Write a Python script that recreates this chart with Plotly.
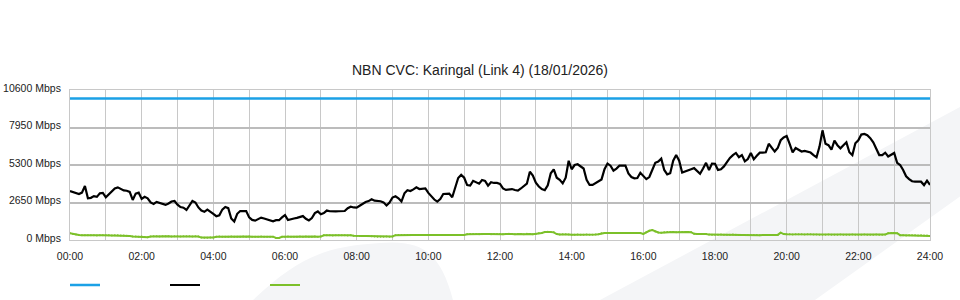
import plotly.graph_objects as go

# ---- data (5-minute samples, 00:00 .. 24:00) ----
times_h = [i * 5 / 60 for i in range(289)]

capacity_x = [0, 24]
capacity = [10000, 10000]

download = [
    3463, 3400, 3300, 3250, 3350, 3816, 2950, 2980, 3100, 3050, 3300, 3330, 3015, 3250, 3450, 3650, 3720, 3600, 3500, 3480, 3400, 2830, 3280, 3345, 2900,
    3050, 2950, 2650, 2550, 2690, 2620, 2560, 2480, 2580, 2720, 2760, 2500, 2330, 2280, 2120, 2480, 2760, 2650, 2300, 2080, 1990, 2150, 2020, 1850,
    1680, 1750, 2150, 2330, 2250, 1520, 1300, 1850, 2050, 2050, 2040, 1600, 1420, 1370, 1500, 1580, 1520, 1470, 1420, 1320, 1400, 1400, 1600, 1760,
    1410, 1480, 1520, 1560, 1640, 1690, 1500, 1380, 1550, 1900, 2020, 1820, 1900, 2080, 2030, 2000, 2020, 2030, 2040, 2050, 2250, 2350, 2300, 2290,
    2420, 2570, 2680, 2750, 2880, 2780, 2760, 2740, 2660, 2440, 2640, 3000, 3090, 2950, 2720, 3300, 3520, 3460, 3580, 3720, 3600, 3620, 3640, 3330,
    3060, 2860, 2710, 2900, 3250, 3250, 3280, 3020, 3780, 4380, 4600, 4400, 3880, 3850, 4180, 4050, 3980, 4240, 4180, 3840, 4080, 4030, 4030, 3960,
    3650, 3540, 3560, 3600, 3530, 3490, 3640, 3800, 3980, 4830, 4550, 4050, 3780, 3600, 3520, 3860, 4710, 4990, 4400, 4250, 4000, 4400, 5600, 5000,
    5300, 5350, 5180, 5050, 4250, 3890, 3890, 4030, 4150, 4280, 5000, 5400, 5250, 4900, 5050, 5250, 5250, 5250, 4700, 4450, 4360, 4380, 4750, 4500,
    4300, 4450, 4950, 5450, 5550, 5750, 4950, 4640, 4720, 5600, 6000, 5600, 4760, 4850, 4960, 5000, 5080, 4900, 4680, 5050, 5450, 4950, 5400, 5390,
    4950, 5000, 5200, 5500, 5800, 6000, 6150, 5850, 6000, 5560, 5720, 6150, 5700, 5950, 6170, 6170, 6200, 6800, 6480, 6250, 6500, 7050, 7250, 7350,
    6800, 6200, 6500, 6400, 6250, 6300, 6250, 6180, 6000, 5850, 6600, 7750, 6800, 6700, 6380, 7020, 6700, 6480, 6700, 6900, 6200, 6000, 6830, 7050,
    7450, 7490, 7400, 7200, 6900, 6400, 6000, 6000, 6170, 5900, 6050, 6150, 5450, 5300, 4950, 4500, 4300, 4150, 4120, 4120, 4120, 3880, 4190, 3890,
]

upload = [
    470, 420, 380, 360, 340, 330, 335, 330, 330, 325, 330, 335, 330, 330, 325, 330, 330, 320, 310, 300, 280, 240, 240, 235, 240,
    210, 190, 250, 260, 260, 255, 260, 265, 260, 255, 260, 260, 255, 260, 265, 260, 255, 260, 250, 170, 165, 165, 170, 175,
    235, 240, 235, 230, 235, 240, 235, 230, 235, 240, 235, 240, 235, 230, 235, 240, 235, 230, 235, 235, 150, 150, 230, 235,
    240, 235, 230, 235, 240, 235, 240, 235, 235, 240, 235, 240, 330, 335, 330, 325, 330, 335, 330, 330, 325, 330, 300, 280,
    285, 280, 285, 280, 270, 240, 235, 230, 235, 240, 235, 245, 340, 350, 355, 350, 345, 350, 355, 350, 345, 350, 355, 350,
    345, 350, 355, 360, 350, 345, 350, 355, 350, 360, 355, 350, 410, 420, 425, 420, 415, 420, 425, 420, 410, 420, 430, 420,
    400, 420, 440, 420, 400, 430, 420, 410, 440, 420, 410, 430, 480, 500, 560, 590, 570, 540, 420, 390, 400, 410, 380, 375,
    370, 380, 375, 370, 380, 375, 370, 380, 400, 470, 490, 495, 500, 495, 490, 500, 495, 490, 500, 495, 490, 495, 490, 430,
    550, 650, 700, 600, 530, 520, 540, 560, 565, 560, 555, 565, 570, 560, 565, 550, 440, 420, 425, 430, 420, 380, 375, 370,
    375, 380, 375, 370, 375, 380, 370, 355, 350, 345, 350, 355, 350, 345, 340, 350, 355, 350, 345, 350, 360, 520, 420, 400,
    400, 395, 400, 405, 400, 395, 400, 400, 390, 380, 375, 370, 375, 380, 375, 370, 375, 380, 375, 370, 375, 380, 375, 370,
    375, 380, 375, 370, 375, 380, 375, 370, 380, 470, 495, 495, 480, 340, 330, 325, 330, 335, 330, 325, 330, 320, 310, 283,
]

assert len(download) == 289, len(download)
assert len(upload) == 289, len(upload)

tick_hours = list(range(0, 25, 2))
tick_text = ["%02d:00" % h for h in tick_hours]
y_ticks = [0, 2650, 5300, 7950, 10600]
y_text = ["%d Mbps" % v for v in y_ticks]

FONT = "Liberation Sans, Arial, Helvetica, sans-serif"

fig = go.Figure()
fig.add_trace(go.Scatter(x=capacity_x, y=capacity, mode="lines", name="",
                         line=dict(color="#1ba1e6", width=2.5), hoverinfo="skip"))
fig.add_trace(go.Scatter(x=times_h, y=download, mode="lines", name="",
                         line=dict(color="#000000", width=2.2)))
fig.add_trace(go.Scatter(x=times_h, y=upload, mode="lines+markers", name="",
                         line=dict(color="#7cc02a", width=2),
                         marker=dict(size=2, color="#7cc02a")))

# background swoosh (decorative)
L, R, T, B = 70, 930, 90, 240
def px(x, y):
    return (x - L) / (R - L), (B - y) / (B - T)

def path(points):
    s = ""
    for k, (x, y) in enumerate(points):
        X, Y = px(x, y)
        s += ("M" if k == 0 else "L") + "%.4f,%.4f " % (X, Y)
    return s + "Z"

a = px(253, 300); c1 = px(300, 255); c2 = px(330, 246); b = px(380, 243)
d1 = px(420, 240); d2 = px(440, 250); e = px(453, 300)
leaf_path = ("M%.4f,%.4f C%.4f,%.4f %.4f,%.4f %.4f,%.4f C%.4f,%.4f %.4f,%.4f %.4f,%.4f Z" %
             (a[0], a[1], c1[0], c1[1], c2[0], c2[1], b[0], b[1],
              d1[0], d1[1], d2[0], d2[1], e[0], e[1]))
band_path = path([(600, 300), (962, 106), (962, 195), (815, 300)])

shapes = [
    dict(type="path", xref="paper", yref="paper", path=leaf_path,
         fillcolor="#f4f5f7", line=dict(width=0), layer="below"),
    dict(type="path", xref="paper", yref="paper", path=band_path,
         fillcolor="#f4f5f7", line=dict(width=0), layer="below"),
]

fig.update_layout(
    width=960, height=300, autosize=False,
    margin=dict(l=70, r=30, t=90, b=60, autoexpand=False),
    paper_bgcolor="#ffffff", plot_bgcolor="rgba(0,0,0,0)",
    font=dict(family=FONT, size=10.5, color="#222222"),
    title=dict(text="NBN CVC: Karingal (Link 4) (18/01/2026)", x=0.5, xref="container",
               y=1 - 70 / 300, yref="container", xanchor="center", yanchor="middle",
               font=dict(family=FONT, size=14, color="#222222")),
    showlegend=True,
    legend=dict(orientation="h", xref="container", yref="container",
                x=65 / 960, xanchor="left", y=1 - 285 / 300, yanchor="middle",
                entrywidth=55, entrywidthmode="pixels", itemwidth=30,
                font=dict(size=10.5), bgcolor="rgba(0,0,0,0)"),
    shapes=shapes,
    hovermode="x",
)
fig.update_xaxes(range=[0, 24], tickvals=tick_hours, ticktext=tick_text,
                 showgrid=True, gridcolor="#c8c8c8", gridwidth=1,
                 minor=dict(dtick=1, showgrid=True, gridcolor="#c8c8c8", gridwidth=1),
                 showline=True, mirror=True, linecolor="#c8c8c8", linewidth=1,
                 zeroline=False, ticks="", ticklabelstandoff=6,
                 automargin=False, fixedrange=True)
fig.update_yaxes(range=[0, 10600], tickvals=y_ticks, ticktext=y_text,
                 showgrid=True, gridcolor="#bcbcbc", gridwidth=1.5,
                 showline=True, mirror=True, linecolor="#c8c8c8", linewidth=1,
                 zeroline=False, ticks="", ticklabelstandoff=6, ticklabelshift=-2,
                 automargin=False, fixedrange=True)

fig.write_html("out.html")
